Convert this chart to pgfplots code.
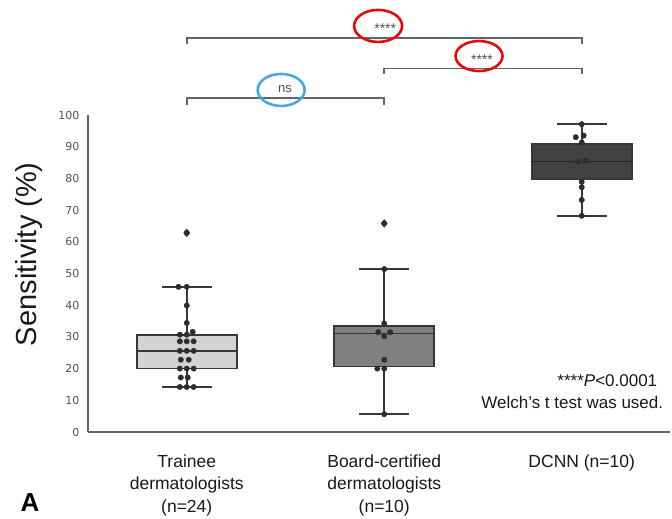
\documentclass[border=0pt]{standalone}
\usepackage{pgfplots}
\pgfplotsset{compat=1.18}
\usepgfplotslibrary{statistics}
\usepackage{fontspec}
\setmainfont{Liberation Sans}
\newfontfamily\tickfont{DejaVu Sans}
\definecolor{boxA}{RGB}{211,211,211}
\definecolor{boxB}{RGB}{128,128,128}
\definecolor{boxC}{RGB}{66,66,66}
\definecolor{edge}{RGB}{55,55,55}
\definecolor{dotc}{RGB}{45,45,45}
\definecolor{axgray}{RGB}{100,100,100}
\definecolor{tickgray}{RGB}{80,80,80}
\definecolor{txt}{RGB}{25,25,25}
\definecolor{ringred}{RGB}{230,10,10}
\definecolor{ringblue}{RGB}{70,170,225}
\begin{document}
\begin{tikzpicture}
\begin{axis}[
  name=ax,
  scale only axis,
  width=582pt, height=317pt,
  xmin=-0.5, xmax=2.447,
  ymin=0, ymax=100,
  clip=false,
  axis x line*=bottom, axis y line*=left,
  axis line style={-, axgray, line width=1.3pt},
  major tick length=0pt,
  /pgf/number format/assume math mode=true,
  ytick={0,10,...,100},
  yticklabel style={font=\tickfont\fontsize{11}{13}\selectfont, text=tickgray, xshift=-5pt},
  xtick={0,1,2},
  xticklabels={{Trainee\\dermatologists\\(n=24)},{Board-certified\\dermatologists\\(n=10)},{DCNN (n=10)}},
  xticklabel style={align=center, font=\fontsize{17.5}{22.5}\selectfont, text=txt, anchor=north, yshift=-19pt},
  ylabel={Sensitivity (\%)},
  ylabel style={font=\fontsize{29}{34}\selectfont, text=txt, at={(axis description cs:-0.101,0.561)}, anchor=center},
  boxplot/draw direction=y,
  boxplot/box extend=0.506,
  boxplot/whisker extend=0.253,
  boxplot/every box/.style={draw=edge, line width=1.7pt},
  boxplot/every whisker/.style={draw=edge, line width=1.7pt},
  boxplot/every median/.style={draw=edge, line width=1.7pt},
]
% boxes
\addplot[boxplot prepared={draw position=0, median=25.6, upper quartile=30.7, lower quartile=20.0, upper whisker=45.8, lower whisker=14.2},
  fill=boxA, draw=edge, line width=1.7pt] coordinates {};
\addplot[boxplot prepared={draw position=1, median=31.1, upper quartile=33.4, lower quartile=20.7, upper whisker=51.4, lower whisker=5.6},
  fill=boxB, draw=edge, line width=1.7pt] coordinates {};
\addplot[boxplot prepared={draw position=2, median=85.3, upper quartile=90.8, lower quartile=79.7, upper whisker=97.2, lower whisker=68.2},
  fill=boxC, draw=edge, line width=1.7pt, boxplot/every median/.style={draw=black!85, line width=1.7pt}] coordinates {};
% outliers
\addplot[only marks, mark=diamond*, mark size=4pt, mark options={fill=boxB, draw=edge}] coordinates {(0,62.8) (1,65.8)};
% swarm points
\addplot[only marks, mark=*, mark size=2.7pt, mark options={fill=dotc, draw=dotc}] table {
x y
0 62.8
-0.042 45.8
0 45.8
0 39.9
0 34.4
0.03 31.6
-0.035 30.7
0 30.7
-0.035 28.6
0 28.6
0.035 28.6
-0.035 25.6
0 25.6
0.035 25.6
-0.03 22.8
0.01 22.8
-0.035 20.0
0 20.0
0.035 20.0
-0.03 17.2
0.005 17.2
-0.035 14.2
0 14.2
0.035 14.2
};
\addplot[only marks, mark=*, mark size=2.7pt, mark options={fill=dotc, draw=dotc}] table {
x y
1 65.8
1 51.4
1 34.2
0.97 31.5
1.03 31.5
1 30.2
1 22.8
0.965 20.0
1.0 20.0
1 5.6
};
\addplot[only marks, mark=*, mark size=2.7pt, mark options={fill=dotc, draw=dotc}] table {
x y
2 97.1
1.97 93.0
2.01 93.5
2 91.3
1.98 85.3
2.02 85.6
2 78.9
2 77.2
2 73.2
2 68.2
};
% brackets
\draw[axgray, line width=1.6pt] (axis cs:0,122.3) -- (axis cs:0,124.2) -- (axis cs:2,124.2) -- (axis cs:2,122.3);
\draw[axgray, line width=1.6pt] (axis cs:1,112.9) -- (axis cs:1,114.7) -- (axis cs:2,114.7) -- (axis cs:2,112.9);
\draw[axgray, line width=1.6pt] (axis cs:0,103.2) -- (axis cs:0,105.3) -- (axis cs:1,105.3) -- (axis cs:1,103.2);
\node[font=\fontsize{14}{15}\selectfont, text=tickgray] at (axis cs:1.005,127.2) {****};
\node[font=\fontsize{14}{15}\selectfont, text=tickgray] at (axis cs:1.495,117.4) {****};
\node[font=\fontsize{13}{14}\selectfont, text=tickgray] at (axis cs:0.498,108.1) {ns};
\draw[ringred, line width=2.6pt] (axis cs:0.969,128.1) ellipse [x radius=24pt, y radius=16pt];
\draw[ringred, line width=2.6pt] (axis cs:1.48,118.6) ellipse [x radius=23.5pt, y radius=15pt];
\draw[ringblue, line width=2.6pt] (axis cs:0.478,107.9) ellipse [x radius=23.5pt, y radius=16pt];
% notes
\node[anchor=east, font=\fontsize{17}{19}\selectfont, text=txt] at (axis cs:2.40,16.2) {****\textit{P}<0.0001};
\node[anchor=east, font=\fontsize{17}{19}\selectfont, text=txt] at (axis cs:2.43,9.2) {Welch’s t test was used.};
\node[font=\bfseries\fontsize{26}{26}\selectfont, text=black] at (axis cs:-0.793,-22.3) {A};
\end{axis}
\pgfresetboundingbox
\path[use as bounding box] (ax.south west) ++(-88pt,-87pt) rectangle ++(672pt,519pt);
\end{tikzpicture}
\end{document}
